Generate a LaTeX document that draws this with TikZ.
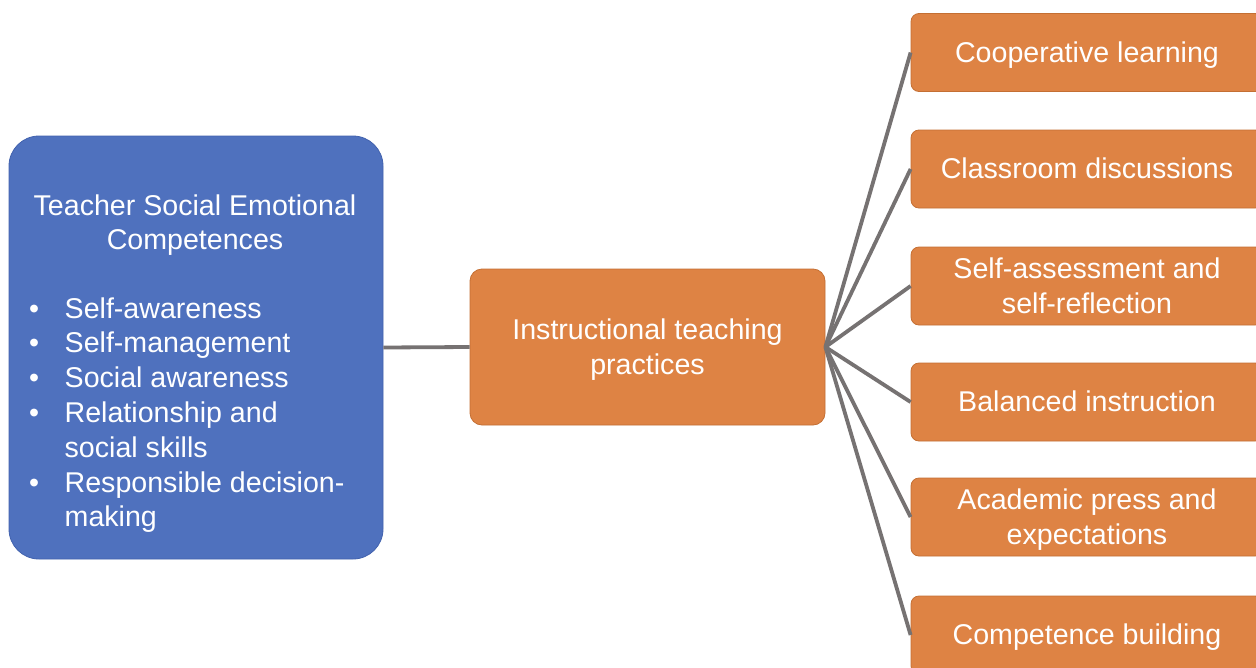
\documentclass[tikz,border=0pt]{standalone}
\usepackage{fontspec}
\setmainfont{Liberation Sans}
\definecolor{sebblue}{HTML}{4F71BE}
\definecolor{sebblueedge}{HTML}{4262AE}
\definecolor{seborange}{HTML}{DE8344}
\definecolor{seborangeedge}{HTML}{C46F33}
\definecolor{sebgray}{HTML}{767272}
\newcommand{\sst}{\rule[-0.212em]{0pt}{1.117em}}
\tikzset{
  txt/.style={text=white, font=\fontsize{28.6}{34.8}\selectfont, inner sep=0pt},
  bluebox/.style={draw=sebblueedge, line width=0.8pt, fill=sebblue, rounded corners=30pt, minimum width=374pt, minimum height=423pt, inner sep=0pt},
  midbox/.style={draw=seborangeedge, line width=0.8pt, fill=seborange, rounded corners=12pt, minimum width=355pt, minimum height=156pt, align=center, txt},
  pracbox/.style={draw=seborangeedge, line width=0.8pt, fill=seborange, rounded corners=8pt, minimum width=352pt, minimum height=78pt, align=center, txt},
  link/.style={draw=sebgray, line width=3.8pt}
}
\begin{document}
\begin{tikzpicture}[x=1pt,y=-1pt]
\clip (0,0) rectangle (1256,667);
\fill[white] (0,0) rectangle (1256,667);
% left box
\node[bluebox] (sec) at (196,347.5) {};
\node[txt, align=center] (sectitle) at (195,222.5) {\sst Teacher Social Emotional\\\sst Competences};
\node[txt, align=left, anchor=west] (seclist) at (29,412.5) {%
\sst\makebox[35.5pt][l]{•}Self-awareness\\
\sst\makebox[35.5pt][l]{•}Self-management\\
\sst\makebox[35.5pt][l]{•}Social awareness\\
\sst\makebox[35.5pt][l]{•}Relationship and\\
\sst\hspace*{35.5pt}social skills\\
\sst\makebox[35.5pt][l]{•}Responsible decision-\\
\sst\hspace*{35.5pt}making};
% middle box
\node[midbox] (itp) at (647.5,347) {\sst Instructional teaching\\\sst practices};
% right boxes
\node[pracbox] (p1) at (1087,52.5) {\sst Cooperative learning};
\node[pracbox] (p2) at (1087,169) {\sst Classroom discussions};
\node[pracbox] (p3) at (1087,286) {\sst Self-assessment and\\\sst self-reflection};
\node[pracbox] (p4) at (1087,402) {\sst Balanced instruction};
\node[pracbox] (p5) at (1087,517) {\sst Academic press and\\\sst expectations};
\node[pracbox] (p6) at (1087,635) {\sst Competence building};
% connectors
\draw[link] (sec.east) -- (itp.west);
\foreach \n in {p1,p2,p3,p4,p5,p6}
  \draw[link] (itp.east) -- (\n.west);
\end{tikzpicture}
\end{document}
